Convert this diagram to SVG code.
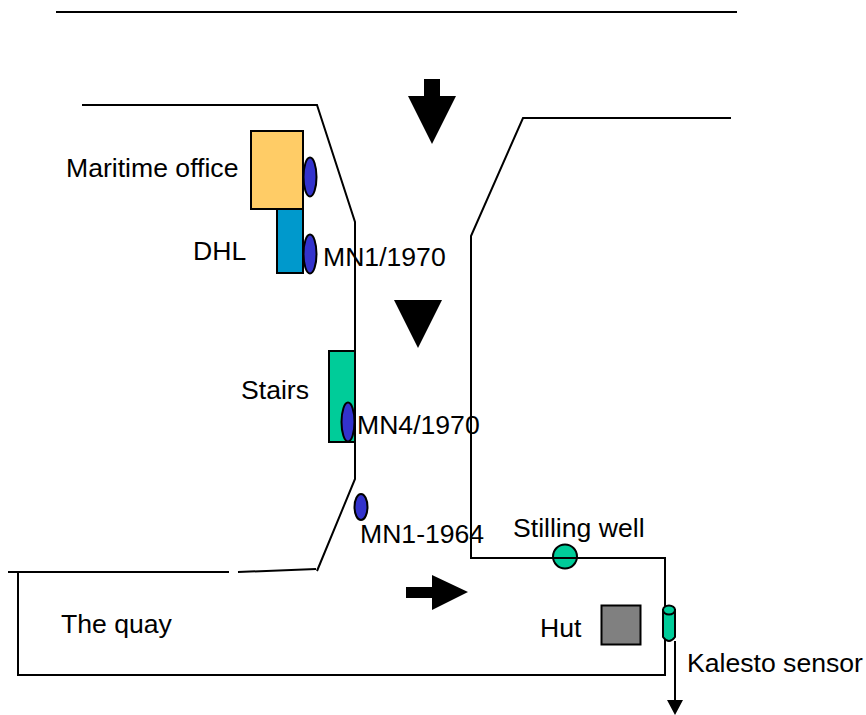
<svg xmlns="http://www.w3.org/2000/svg" width="866" height="715" viewBox="0 0 866 715">
<style>
text{font-family:"Liberation Sans",Arial,sans-serif;font-size:26.6px;fill:#000}
.l{fill:none;stroke:#000;stroke-width:2}
.n{stroke:#000;stroke-width:2}
.m{fill:#3333cc;stroke:#000;stroke-width:2}
.g{fill:#00cc99;stroke:#000;stroke-width:2}
.a{fill:#000;stroke:none}
</style>
<g id="connectors">
<path class="l" d="M56 12H737"/>
<path class="l" d="M82 105H317L355 222V479L317 571"/>
<path class="l" d="M238 572L316 569"/>
<path class="l" d="M8 572H229"/>
<path class="l" d="M18 572V675H665V558H471V236L523 118H731"/>
<path class="l" d="M675 641V701"/>
<path class="a" d="M667 700H683L675 715Z"/>
</g>
<g id="maritime-office"><rect class="n" x="251" y="131" width="52" height="78" fill="#ffcc66"/><text x="66" y="177">Maritime office</text></g>
<g id="dhl"><rect class="n" x="277" y="209" width="26" height="64" fill="#0099cc"/><text x="193" y="260">DHL</text></g>
<g id="marker-office"><ellipse class="m" cx="310" cy="177" rx="6.500" ry="19.500"/></g>
<g id="mn1-1970"><ellipse class="m" cx="310" cy="254" rx="6.500" ry="19.500"/><text x="323" y="266">MN1/1970</text></g>
<g id="stairs"><rect class="n" x="329" y="351" width="26" height="91" fill="#00cc99"/><text x="241" y="399">Stairs</text></g>
<g id="mn4-1970"><ellipse class="m" cx="348" cy="422" rx="6.500" ry="19.500"/><text x="357" y="434">MN4/1970</text></g>
<g id="mn1-1964"><ellipse class="m" cx="361" cy="507" rx="6.500" ry="13"/><text x="360" y="543">MN1-1964</text></g>
<g id="stilling-well"><circle class="g" cx="565" cy="556.500" r="12"/><path class="l" d="M553 558H577"/><text x="513" y="537">Stilling well</text></g>
<g id="hut"><rect x="601.500" y="605.500" width="39" height="39" fill="#808080" stroke="#000" stroke-width="2"/><text x="540" y="637">Hut</text></g>
<g id="kalesto-sensor"><path class="g" d="M663 610V637Q669 645 675 637V610Z"/><ellipse class="g" cx="669" cy="610" rx="6" ry="4.500"/><text x="687" y="672">Kalesto sensor</text></g>
<g id="the-quay"><text x="61" y="633">The quay</text></g>
<g id="flow-arrows">
<path class="a" d="M424 79H440V96H456L432 144L408 96H424Z"/>
<path class="a" d="M394 300H442L418 348Z"/>
<path class="a" d="M406 587H432V575L468 592L432 610V598H406Z"/>
</g>
</svg>
